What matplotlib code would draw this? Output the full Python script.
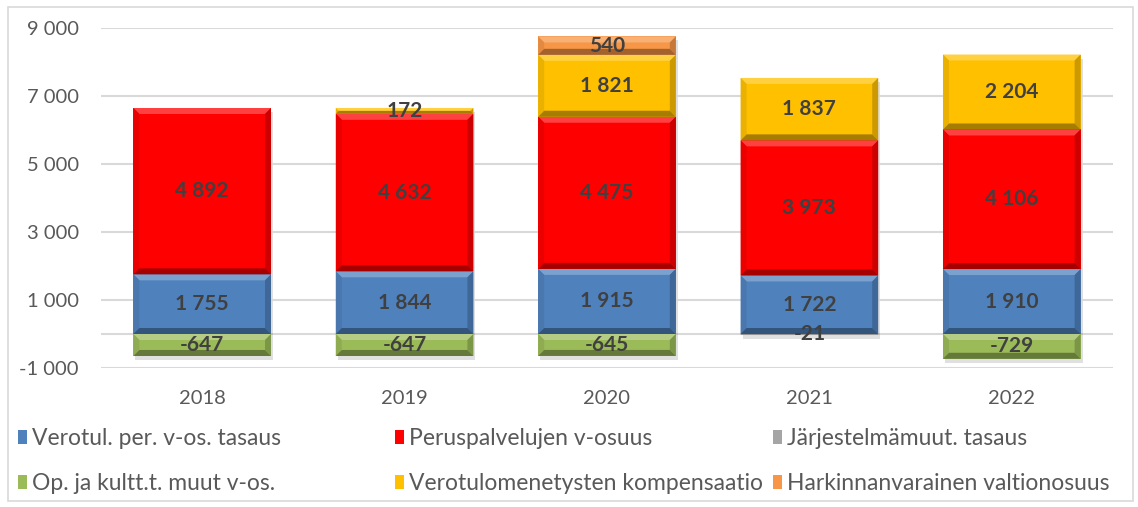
import matplotlib.pyplot as plt
from matplotlib.patches import Polygon, Rectangle
from matplotlib.colors import to_rgb
import numpy as np

plt.rcParams['font.family'] = ['Lato', 'DejaVu Sans']

years = ["2018", "2019", "2020", "2021", "2022"]
labels = ["Verotul. per. v-os. tasaus", "Peruspalvelujen v-osuus", "Järjestelmämuut. tasaus",
          "Op. ja kultt.t. muut v-os.", "Verotulomenetysten kompensaatio",
          "Harkinnanvarainen valtionosuus"]
tasaus = [1755, 1844, 1915, 1722, 1910]
peruspalvelu = [4892, 4632, 4475, 3973, 4106]
jarjestelma = [np.nan, np.nan, np.nan, -21, np.nan]
opetus = [-647, -647, -645, np.nan, -729]
kompensaatio = [np.nan, 172, 1821, 1837, 2204]
harkinta = [np.nan, np.nan, 540, np.nan, np.nan]
series = [tasaus, peruspalvelu, jarjestelma, opetus, kompensaatio, harkinta]
colors = ["#4F81BD", "#FF0000", "#A5A5A5", "#9BBB59", "#FFC000", "#F79646"]

W, H = 1138, 507
fig = plt.figure(figsize=(W / 100, H / 100), dpi=100)
ax = fig.add_axes([101 / W, 1 - 368 / H, 1012 / W, 340 / H])
ax.set_xlim(-0.5, 4.5)
ax.set_ylim(-1000, 9000)

# pixel -> data scale
px_x = 1 / 202.4
px_y = 10000 / 340


def mix(c, other, t):
    c = np.array(to_rgb(c))
    return tuple(c * (1 - t) + np.array(other) * t)


def bevel(patch, color):
    x0, w = patch.get_x(), patch.get_width()
    y0, h = patch.get_y(), patch.get_height()
    if h < 0:
        y0, h = y0 + h, -h
    x1, y1 = x0 + w, y0 + h
    dy = min(6 * px_y, h / 2)
    dx = min(6 * px_x, dy / px_y * px_x)
    ix0, ix1, iy0, iy1 = x0 + dx, x1 - dx, y0 + dy, y1 - dy
    sides = [
        ([(x0, y1), (x1, y1), (ix1, iy1), (ix0, iy1)], mix(color, (1, 1, 1), 0.25)),
        ([(x0, y0), (x0, y1), (ix0, iy1), (ix0, iy0)], mix(color, (0, 0, 0), 0.08)),
        ([(x1, y0), (x1, y1), (ix1, iy1), (ix1, iy0)], mix(color, (0, 0, 0), 0.2)),
        ([(x0, y0), (x1, y0), (ix1, iy0), (ix0, iy0)], mix(color, (0, 0, 0), 0.35)),
    ]
    for pts, c in sides:
        ax.add_patch(Polygon(pts, closed=True, facecolor=c, edgecolor='none', zorder=3))


x = np.arange(len(years))
width = 0.68
pos_base = np.zeros(len(years))
neg_base = np.zeros(len(years))

# soft shadow under each stack
totals_pos = np.nansum([np.clip(np.nan_to_num(s), 0, None) for s in series], axis=0)
totals_neg = np.nansum([np.clip(np.nan_to_num(s), None, 0) for s in series], axis=0)
ax.bar(x + 2 * px_x, totals_pos - totals_neg, width, bottom=totals_neg - 4 * px_y,
       color='#000000', alpha=0.12, zorder=1.5)

for vals, col, lab in zip(series, colors, labels):
    v = np.array(vals, dtype=float)
    vv = np.nan_to_num(v)
    bottom = np.where(vv >= 0, pos_base, neg_base)
    bars = ax.bar(x, vv, width, bottom=bottom, color=col, zorder=2, label=lab)
    for b, val in zip(bars, v):
        if np.isnan(val):
            continue
        bevel(b, col)
        ax.text(b.get_x() + b.get_width() / 2, b.get_y() + b.get_height() / 2,
                f"{int(val):,}".replace(",", " "), ha='center', va='center',
                fontsize=15, fontweight='bold', color='#404040', zorder=5)
    pos_base = pos_base + np.clip(vv, 0, None)
    neg_base = neg_base + np.clip(vv, None, 0)

ax.set_yticks(np.arange(-1000, 9001, 2000))
ax.set_yticklabels([f"{t:,}".replace(",", " ") for t in range(-1000, 9001, 2000)])
ax.set_xticks(x)
ax.set_xticklabels(years)
ax.tick_params(axis='both', length=0, labelsize=14.5, labelcolor='#595959')
ax.tick_params(axis='y', pad=16)
ax.tick_params(axis='x', pad=16)
ax.grid(axis='y', color='#D9D9D9', lw=1.5, zorder=0)
ax.axhline(0, color='#D9D9D9', lw=1.5, zorder=1)
for s in ax.spines.values():
    s.set_visible(False)

handles, labs = ax.get_legend_handles_labels()
order = [[0, 3], [1, 4], [2, 5]]
xs = [18, 395, 773]
for cols, xp in zip(order, xs):
    leg = fig.legend([handles[i] for i in cols], [labs[i] for i in cols],
                     loc='upper left', bbox_to_anchor=(xp / W, 1 - 428 / H),
                     frameon=False, fontsize=16.5, handlelength=0.4, handleheight=0.6,
                     handletextpad=0.2, labelspacing=1.05, borderpad=0, borderaxespad=0,
                     labelcolor='#595959')

fig.patches.append(Rectangle((8 / W, 6 / H), 1125 / W, 494 / H, transform=fig.transFigure,
                             facecolor='none', edgecolor='#D9D9D9', lw=1.2))

fig.savefig("out.png", dpi=100)
